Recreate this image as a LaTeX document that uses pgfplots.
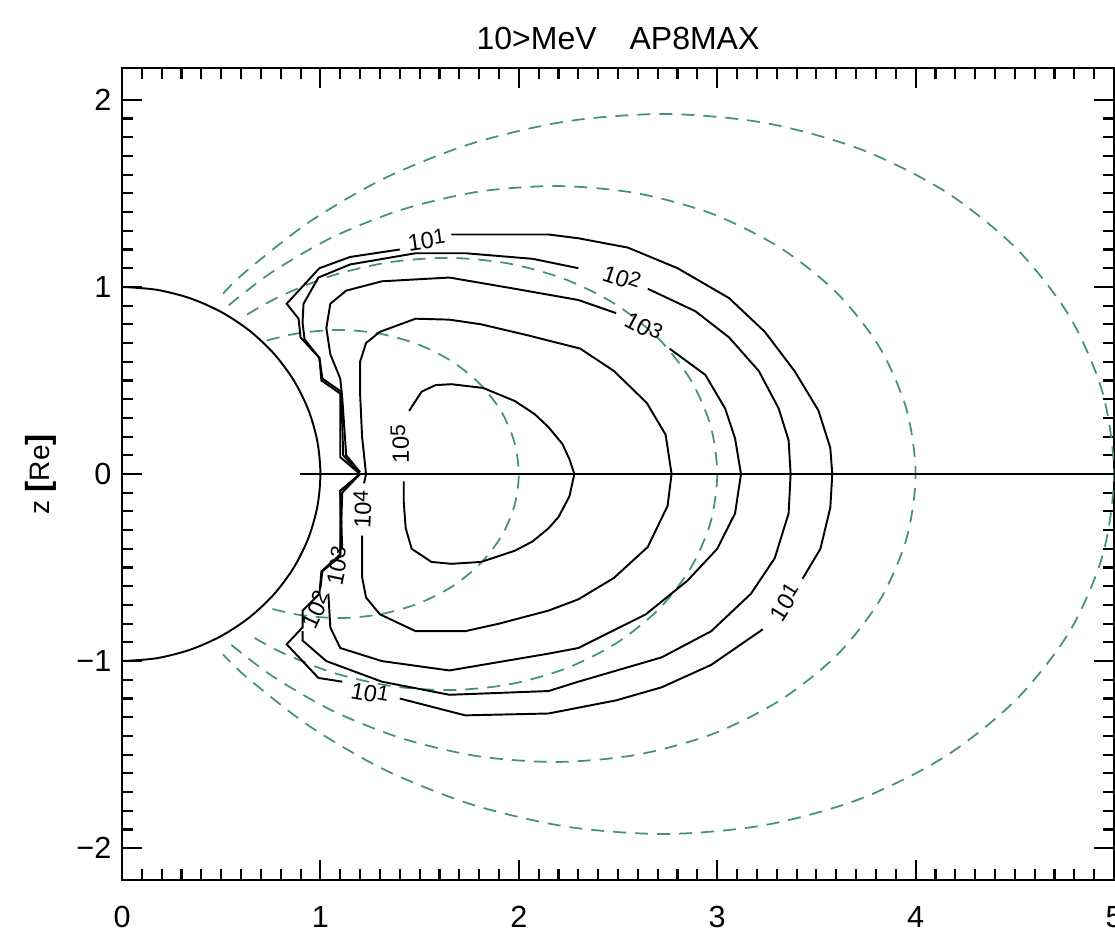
\documentclass[border=0pt]{standalone}
\usepackage{pgfplots}
\pgfplotsset{compat=1.18}
\usepackage{fontspec}
\setmainfont{Liberation Sans}

\definecolor{fieldline}{RGB}{70,145,125}
% contour annotation: 10 with a raised exponent digit
\newcommand{\pw}[1]{10\raisebox{0.3ex}{\fontsize{6.0}{7}\selectfont #1}}
\tikzset{
  clabel/.style={font=\fontsize{6.7}{8}\selectfont, inner sep=0pt, black},
  contour/.style={black, line width=0.55pt},
  dipole/.style={fieldline, line width=0.5pt, dash pattern=on 0.13cm off 0.09cm, smooth},
}

\begin{document}
\begin{tikzpicture}
\begin{axis}[
  scale only axis,
  width=9.92cm, height=8.12cm,
  xmin=0, xmax=5, ymin=-2.17, ymax=2.17,
  xtick={0,1,2,3,4,5}, xticklabels={0,1,2,3,4,5},
  ytick={-2,-1,0,1,2}, yticklabels={−2,−1,0,1,2},
  minor x tick num=9, minor y tick num=9,
  major tick length=0.2cm, minor tick length=0.11cm,
  tick style={black, line width=0.6pt},
  axis line style={black, line width=0.7pt},
  tick label style={font=\fontsize{8.7}{10}\selectfont},
  xticklabel style={anchor=center, yshift=-0.37cm},
  yticklabel style={anchor=east, inner sep=0pt, xshift=-0.1cm},
  title={10>MeV\hspace{0.33cm}AP8MAX},
  every axis title shift=0pt,
  title style={font=\fontsize{9.1}{10}\selectfont, at={(axis description cs:0.5,1)}, anchor=base, yshift=0.18cm},
  ylabel={z \textbf{\fontsize{9.5}{10}\selectfont[}Re\textbf{\fontsize{9.5}{10}\selectfont]}},
  ylabel style={font=\fontsize{8}{10}\selectfont, at={(axis description cs:-0.0817,0.5)}, anchor=center},
]

% dipole field lines L = 2, 3, 4, 5
\addplot[dipole] coordinates {(0.730,0.714) (0.899,0.754) (1.099,0.770) (1.299,0.750) (1.489,0.694) (1.660,0.604) (1.802,0.483) (1.910,0.337) (1.977,0.173) (2,0) (1.977,-0.173) (1.910,-0.337) (1.802,-0.483) (1.660,-0.604) (1.489,-0.694) (1.299,-0.750) (1.099,-0.770) (0.899,-0.754) (0.730,-0.714)};
\addplot[dipole] coordinates {(0.630,0.852) (0.797,0.950) (1.061,1.061) (1.349,1.132) (1.649,1.155) (1.949,1.125) (2.233,1.041) (2.489,0.906) (2.704,0.724) (2.865,0.505) (2.966,0.260) (3,0) (2.966,-0.260) (2.865,-0.505) (2.704,-0.724) (2.489,-0.906) (2.233,-1.041) (1.949,-1.125) (1.649,-1.155) (1.349,-1.132) (1.061,-1.061) (0.797,-0.950) (0.630,-0.852)};
\addplot[dipole] coordinates {(0.538,0.902) (0.755,1.078) (1.062,1.266) (1.414,1.414) (1.798,1.509) (2.199,1.539) (2.598,1.500) (2.978,1.389) (3.319,1.208) (3.605,0.966) (3.820,0.674) (3.954,0.346) (4,0) (3.954,-0.346) (3.820,-0.674) (3.605,-0.966) (3.319,-1.208) (2.978,-1.389) (2.598,-1.500) (2.199,-1.539) (1.798,-1.509) (1.414,-1.414) (1.062,-1.266) (0.755,-1.078) (0.538,-0.902)};
\addplot[dipole] coordinates {(0.509,0.964) (0.625,1.083) (0.944,1.347) (1.328,1.583) (1.768,1.768) (2.248,1.886) (2.748,1.924) (3.248,1.875) (3.722,1.736) (4.149,1.510) (4.506,1.207) (4.776,0.842) (4.943,0.433) (5,0) (4.943,-0.433) (4.776,-0.842) (4.506,-1.207) (4.149,-1.510) (3.722,-1.736) (3.248,-1.875) (2.748,-1.924) (2.248,-1.886) (1.768,-1.768) (1.328,-1.583) (0.944,-1.347) (0.625,-1.083) (0.509,-0.964)};

% Earth
\addplot[black, line width=0.55pt, smooth] coordinates {(0,1) (0.1736,0.9848) (0.3420,0.9397) (0.5,0.8660) (0.6428,0.7660) (0.7660,0.6428) (0.8660,0.5) (0.9397,0.3420) (0.9848,0.1736) (1,0) (0.9848,-0.1736) (0.9397,-0.3420) (0.8660,-0.5) (0.7660,-0.6428) (0.6428,-0.7660) (0.5,-0.8660) (0.3420,-0.9397) (0.1736,-0.9848) (0,-1)};
% magnetic equator
\addplot[black, line width=0.6pt] coordinates {(0.895,0) (5,0)};

% 10^5
\addplot[contour] coordinates {(1.447,0.337) (1.51,0.44) (1.58,0.475) (1.66,0.48) (1.82,0.46) (1.98,0.39) (2.08,0.32) (2.15,0.25) (2.22,0.16) (2.255,0.08) (2.28,0) (2.255,-0.12) (2.20,-0.23) (2.15,-0.29) (2.07,-0.36) (1.98,-0.41) (1.81,-0.47) (1.66,-0.48) (1.56,-0.47) (1.46,-0.40) (1.43,-0.29) (1.42,-0.15) (1.42,-0.04)};
% 10^4
\addplot[contour] coordinates {(1.22,-0.05) (1.23,0) (1.21,0.2) (1.20,0.43) (1.20,0.60) (1.23,0.70) (1.30,0.76) (1.48,0.83) (1.65,0.825) (1.81,0.80) (2.05,0.74) (2.31,0.67) (2.48,0.55) (2.645,0.38) (2.74,0.21) (2.77,0) (2.75,-0.17) (2.65,-0.39) (2.48,-0.555) (2.30,-0.67) (2.15,-0.73) (1.90,-0.80) (1.73,-0.84) (1.48,-0.84) (1.30,-0.75) (1.23,-0.66) (1.21,-0.55) (1.21,-0.33)};
% 10^3
\addplot[contour] coordinates {(1.20,0.01) (1.13,0.10) (1.11,0.41) (1.10,0.51) (1.05,0.64) (1.03,0.78) (1.05,0.91) (1.13,0.98) (1.31,1.03) (1.65,1.05) (1.98,0.99) (2.30,0.93) (2.49,0.86)};
\addplot[contour] coordinates {(2.76,0.67) (2.94,0.53) (3.04,0.35) (3.09,0.19) (3.12,0) (3.09,-0.21) (3.00,-0.40) (2.85,-0.57) (2.64,-0.75) (2.30,-0.93) (2.15,-0.96) (1.65,-1.05) (1.31,-1.0) (1.10,-0.93) (1.05,-0.82) (1.04,-0.64)};
\addplot[contour] coordinates {(1.11,-0.40) (1.10,-0.09) (1.20,0)};
% 10^2
\addplot[contour] coordinates {(1.20,0.0) (1.115,0.10) (1.105,0.44) (1.01,0.51) (0.995,0.62) (0.92,0.72) (0.91,0.81) (0.915,0.91) (0.99,1.05) (1.15,1.12) (1.48,1.18) (1.73,1.18) (2.07,1.15) (2.30,1.10)};
\addplot[contour] coordinates {(2.65,0.99) (2.89,0.87) (3.06,0.73) (3.21,0.55) (3.31,0.35) (3.36,0.18) (3.37,0) (3.36,-0.21) (3.29,-0.45) (3.17,-0.64) (2.97,-0.84) (2.72,-0.98) (2.30,-1.11) (2.15,-1.16) (1.65,-1.18) (1.31,-1.11) (1.03,-1.0) (0.91,-0.89) (0.91,-0.84)};
\addplot[contour] coordinates {(1.00,-0.61) (1.01,-0.52) (1.10,-0.44) (1.11,-0.10) (1.20,0.0)};
% 10^1
\addplot[contour] coordinates {(1.20,0.0) (1.10,0.09) (1.10,0.43) (1.005,0.50) (0.995,0.62) (0.90,0.73) (0.89,0.83) (0.83,0.91) (0.995,1.10) (1.15,1.16) (1.40,1.20)};
\addplot[contour] coordinates {(1.66,1.28) (2.15,1.28) (2.30,1.26) (2.55,1.21) (2.80,1.10) (3.06,0.94) (3.24,0.76) (3.39,0.55) (3.51,0.34) (3.57,0.14) (3.58,0) (3.57,-0.18) (3.52,-0.40) (3.43,-0.56)};
\addplot[contour] coordinates {(3.23,-0.83) (2.97,-1.02) (2.72,-1.14) (2.49,-1.21) (2.15,-1.28) (1.73,-1.29) (1.40,-1.20)};
\addplot[contour] coordinates {(1.11,-1.11) (0.99,-1.09) (0.83,-0.91) (0.91,-0.82) (0.91,-0.73) (0.995,-0.64) (1.005,-0.52) (1.10,-0.43) (1.10,-0.09) (1.20,0)};

% contour annotations
\node[clabel, rotate=90] at (axis cs:1.40,0.16) {\pw{5}};
\node[clabel, rotate=88] at (axis cs:1.21,-0.19) {\pw{4}};
\node[clabel, rotate=-28] at (axis cs:2.63,0.79) {\pw{3}};
\node[clabel, rotate=78] at (axis cs:1.085,-0.49) {\pw{3}};
\node[clabel, rotate=-18] at (axis cs:2.52,1.05) {\pw{2}};
\node[clabel, rotate=65] at (axis cs:0.975,-0.725) {\pw{2}};
\node[clabel, rotate=8] at (axis cs:1.535,1.25) {\pw{1}};
\node[clabel, rotate=58] at (axis cs:3.34,-0.685) {\pw{1}};
\node[clabel, rotate=-10] at (axis cs:1.25,-1.17) {\pw{1}};
\end{axis}
\pgfresetboundingbox
\path[use as bounding box] (-1.22,-0.66) rectangle (9.93,8.80);
\end{tikzpicture}
\end{document}
